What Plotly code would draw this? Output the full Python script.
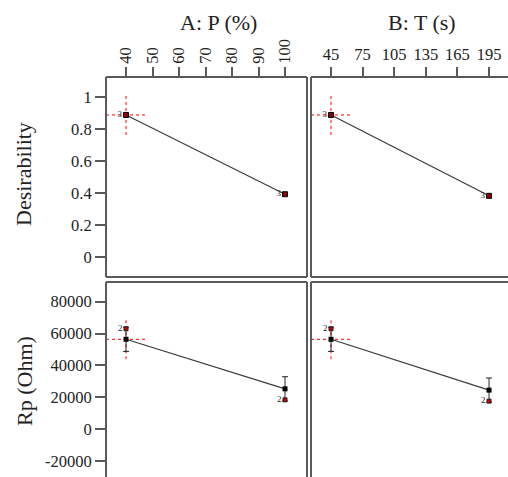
import plotly.graph_objects as go

# ---- data ----
A_levels = [40, 100]          # A: P (%)
B_levels = [45, 195]          # B: T (s)
desir_A = [0.889, 0.392]
desir_B = [0.889, 0.382]
desir_count = ["3", "3"]
rp_pred_A = [56400, 25300]
rp_pred_B = [56400, 24500]
rp_err = [7600, 7600]
rp_design_A = [63000, 18400]
rp_design_B = [63000, 17600]
rp_count = ["2", "2"]

A_ticks = [40, 50, 60, 70, 80, 90, 100]
B_ticks = [45, 75, 105, 135, 165, 195]
desir_ticks = [0, 0.2, 0.4, 0.6, 0.8, 1]
desir_ticktext = ["0", "0.2", "0.4", "0.6", "0.8", "1"]
rp_ticks = [-20000, 0, 20000, 40000, 60000, 80000]
rp_ticktext = ["-20000", "0", "20000", "40000", "60000", "80000"]

W, H = 508, 477
FONT = "Liberation Serif, 'Times New Roman', Times, 'DejaVu Serif', serif"
BORDER = "#5a5a5a"

# panel pixel geometry
colL = (106, 307)
colR = (311, 508)
rowT = (77, 277)
rowB = (282, 477)

def px_x(a, b):
    return [a / W, b / W]

def px_y(a, b):
    return [1 - b / H, 1 - a / H]

fig = go.Figure()

def panel(xa, ya, xs, ys, kind, design=None, err=None, counts=None):
    if kind == "desir":
        fig.add_trace(go.Scatter(
            x=xs, y=ys, mode="lines+markers+text", xaxis=xa, yaxis=ya,
            line=dict(color="#3a3a3a", width=1.2),
            marker=dict(symbol="square", size=5, color="#8b0000",
                        line=dict(color="black", width=1)),
            text=counts, textposition="middle left",
            textfont=dict(family=FONT, size=9, color="#222"),
            showlegend=False, cliponaxis=False))
    else:
        fig.add_trace(go.Scatter(
            x=xs, y=ys, mode="lines+markers", xaxis=xa, yaxis=ya,
            line=dict(color="#3a3a3a", width=1.2),
            marker=dict(symbol="square", size=5, color="black"),
            error_y=dict(type="data", array=err, visible=True,
                         color="#222", thickness=1, width=3),
            showlegend=False))
        fig.add_trace(go.Scatter(
            x=xs, y=design, mode="markers+text", xaxis=xa, yaxis=ya,
            marker=dict(symbol="square", size=4, color="#cc0000",
                        line=dict(color="#222", width=1)),
            text=counts, textposition="middle left",
            textfont=dict(family=FONT, size=9, color="#222"),
            showlegend=False, cliponaxis=False))
    # crosshair at current setting (first point)
    fig.add_shape(type="line", xref=xa, yref=ya, xsizemode="pixel",
                  xanchor=xs[0], x0=-20, x1=20, y0=ys[0], y1=ys[0],
                  line=dict(color="red", width=1, dash="dot"), layer="below")
    fig.add_shape(type="line", xref=xa, yref=ya, ysizemode="pixel",
                  yanchor=ys[0], y0=-20, y1=20, x0=xs[0], x1=xs[0],
                  line=dict(color="red", width=1, dash="dot"), layer="below")

panel("x", "y", A_levels, desir_A, "desir", counts=desir_count)
panel("x2", "y2", B_levels, desir_B, "desir", counts=desir_count)
panel("x3", "y3", A_levels, rp_pred_A, "rp", design=rp_design_A, err=rp_err, counts=rp_count)
panel("x4", "y4", B_levels, rp_pred_B, "rp", design=rp_design_B, err=rp_err, counts=rp_count)

# axis ranges from pixel calibration
A_range = [32.45, 108.3]
B_range = [26.0, 213.0]
desir_range = [-0.127, 1.127]
rp_range = [-30040, 92370]

tickfont = dict(family=FONT, size=16.5, color="#222")
common_x = dict(showgrid=False, zeroline=False, showline=False)
common_y = dict(showgrid=False, zeroline=False, showline=False)

fig.update_layout(
    width=W, height=H, margin=dict(l=0, r=0, t=0, b=0),
    plot_bgcolor="white", paper_bgcolor="white",
    font=dict(family=FONT, color="#222"),
    xaxis=dict(domain=px_x(*colL), range=A_range, anchor="y", side="top",
               tickvals=A_ticks, ticks="outside", ticklen=9, tickcolor=BORDER,
               tickwidth=1.5, tickangle=-90, tickfont=tickfont, **common_x),
    xaxis2=dict(domain=px_x(*colR), range=B_range, anchor="y2", side="top",
                tickvals=B_ticks, ticks="outside", ticklen=9, tickcolor=BORDER,
                tickwidth=1.5, tickangle=0, tickfont=tickfont, **common_x),
    xaxis3=dict(domain=px_x(*colL), range=A_range, anchor="y3",
                showticklabels=False, ticks="", **common_x),
    xaxis4=dict(domain=px_x(*colR), range=B_range, anchor="y4",
                showticklabels=False, ticks="", **common_x),
    yaxis=dict(domain=px_y(*rowT), range=desir_range, anchor="x",
               tickvals=desir_ticks, ticktext=desir_ticktext, ticks="outside",
               ticklen=10, tickcolor=BORDER, tickwidth=1.5, tickfont=tickfont, **common_y),
    yaxis2=dict(domain=px_y(*rowT), range=desir_range, anchor="x2",
                showticklabels=False, ticks="", **common_y),
    yaxis3=dict(domain=px_y(*rowB), range=rp_range, anchor="x3",
                tickvals=rp_ticks, ticktext=rp_ticktext, ticks="outside",
                ticklen=10, tickcolor=BORDER, tickwidth=1.5, tickfont=tickfont, **common_y),
    yaxis4=dict(domain=px_y(*rowB), range=rp_range, anchor="x4",
                showticklabels=False, ticks="", **common_y),
)

# panel borders (paper coords)
def border(x0, x1, y0, y1, sides):
    X0, X1 = x0 / W, x1 / W
    Y0, Y1 = 1 - y1 / H, 1 - y0 / H
    segs = {"left": (X0, Y0, X0, Y1), "right": (X1, Y0, X1, Y1),
            "top": (X0, Y1, X1, Y1), "bottom": (X0, Y0, X1, Y0)}
    for s in sides:
        a, b, c, d = segs[s]
        fig.add_shape(type="line", xref="paper", yref="paper", x0=a, y0=b, x1=c, y1=d,
                      line=dict(color=BORDER, width=2))

border(*colL, *rowT, ["left", "top", "right", "bottom"])
border(colR[0], colR[1], *rowT, ["left", "top", "bottom"])
border(*colL, *rowB, ["left", "top", "right"])
border(colR[0], colR[1], *rowB, ["left", "top"])

titlefont = dict(family=FONT, size=22, color="#222")
fig.add_annotation(text="A: P (%)", xref="paper", yref="paper", x=218 / W, y=1 - 23 / H,
                   showarrow=False, font=titlefont, xanchor="center", yanchor="middle")
fig.add_annotation(text="B: T (s)", xref="paper", yref="paper", x=422 / W, y=1 - 23 / H,
                   showarrow=False, font=titlefont, xanchor="center", yanchor="middle")
fig.add_annotation(text="Desirability", xref="paper", yref="paper", x=24 / W, y=1 - 174 / H,
                   showarrow=False, font=titlefont, textangle=-90, xanchor="center", yanchor="middle")
fig.add_annotation(text="Rp (Ohm)", xref="paper", yref="paper", x=24 / W, y=1 - 381 / H,
                   showarrow=False, font=titlefont, textangle=-90, xanchor="center", yanchor="middle")

fig.write_html("out.html")
